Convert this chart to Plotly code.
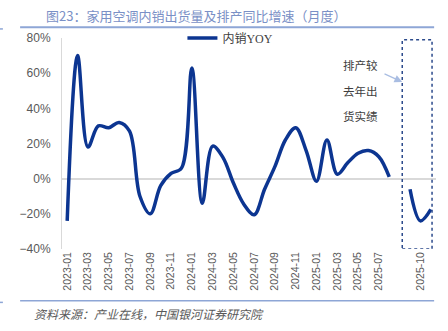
import plotly.graph_objects as go

# Monthly categories; a blank slot separates actual shipments from the production plan
months = [f"{y}-{m:02d}" for y in (2023, 2024, 2025) for m in range(1, 13)]
hist_months = months[:32]                      # 2023-01 .. 2025-08
plan_months = ["2025-09", "2025-10", "2025-11"]
categories = hist_months + [" "] + plan_months

# Domestic sales YoY (%)
domestic_yoy = [-24, 70, 18, 30, 29, 32, 27, -10, -20, -4, 3, 6,
                63, -14, 18.5, 12, -2.5, -14.5, -20.5, -6, 7, 22,
                29, 16, -1.5, 22, 2.5, 9, 14.5, 16, 12.5, 1]
# Production plan vs prior-year actual shipments (%)
plan_yoy = [-6, -24, -17.5]

tick_labels = [c for i, c in enumerate(categories) if i % 2 == 0 and c.strip()]

navy = "#0c3591"
grey_text = "#595959"

fig = go.Figure()
fig.add_trace(go.Scatter(
    x=hist_months, y=domestic_yoy, mode="lines", name="内销YOY",
    line=dict(color=navy, width=3.5, shape="spline", smoothing=1),
))
fig.add_trace(go.Scatter(
    x=plan_months, y=plan_yoy, mode="lines", showlegend=False,
    line=dict(color=navy, width=3.5, shape="spline", smoothing=1),
))

# Dotted frame around the plan segment
fig.add_shape(type="rect", xref="x", yref="y",
              x0=32.25, x1=35.12, y0=-40, y1=79,
              line=dict(color="#2c4a8c", width=1.5, dash="dot"))

# Header / footer rules
fig.add_shape(type="line", xref="paper", yref="paper",
              x0=-0.112, x1=0.995, y0=1.051, y1=1.051,
              line=dict(color="#8ea6d6", width=2))
fig.add_shape(type="line", xref="paper", yref="paper",
              x0=-0.112, x1=0.995, y0=-0.245, y1=-0.245,
              line=dict(color="#8ea6d6", width=1.5))
# small edge marks at the far left
for yv in (1.043, -0.253):
    fig.add_shape(type="line", xref="paper", yref="paper",
                  x0=-0.166, x1=-0.158, y0=yv, y1=yv,
                  line=dict(color="#8ea6d6", width=1.5))

fig.add_annotation(text="图23：家用空调内销出货量及排产同比增速（月度）",
                   xref="paper", yref="paper", x=-0.047, y=1.105,
                   xanchor="left", yanchor="middle", showarrow=False,
                   font=dict(family="Noto Sans CJK SC", size=13, color="#7a90c6"))
fig.add_annotation(text="<i>资料来源：产业在线，中国银河证券研究院</i>",
                   xref="paper", yref="paper", x=-0.08, y=-0.305,
                   xanchor="left", yanchor="middle", showarrow=False,
                   font=dict(family="Noto Sans CJK SC", size=12, color=grey_text))

note_font = dict(family="Noto Sans CJK SC", size=11.5, color="#404040")
for txt, yv in (("排产较", 64.5), ("去年出", 50), ("货实绩", 35.5)):
    fig.add_annotation(text=txt, x=28.2, y=yv, xref="x", yref="y",
                       showarrow=False, font=note_font)

fig.add_annotation(x=32.25, y=55, ax=30.4, ay=60, xref="x", yref="y",
                   axref="x", ayref="y", text="", showarrow=True,
                   arrowhead=2, arrowsize=1.3, arrowwidth=1.2,
                   arrowcolor="#a9bde2")

fig.update_layout(
    width=448, height=331,
    margin=dict(l=62, r=12, t=37.5, b=81.5),
    plot_bgcolor="white", paper_bgcolor="white",
    font=dict(family="Liberation Sans", color=grey_text),
    legend=dict(orientation="h", x=0.322, y=1.0, xanchor="left", yanchor="middle",
                font=dict(family="Liberation Serif, Noto Sans CJK SC", size=12,
                          color="#404040"),
                bgcolor="rgba(0,0,0,0)"),
)
fig.update_xaxes(type="category", categoryorder="array", categoryarray=categories,
                 range=[-0.5, len(categories) - 0.5],
                 tickmode="array", tickvals=tick_labels, ticktext=tick_labels,
                 tickangle=-90, tickfont=dict(size=10.5, color=grey_text),
                 showgrid=False, showline=False, ticks="", zeroline=False)
fig.update_yaxes(range=[-40, 80], dtick=20, ticksuffix="%",
                 tickfont=dict(size=12, color=grey_text),
                 showgrid=False, showline=True, linecolor="#d9d9d9", linewidth=1,
                 zeroline=True, zerolinecolor="#d9d9d9", zerolinewidth=1.5,
                 ticks="", ticklabelstandoff=8)

fig.write_html("out.html", config={"displayModeBar": False})
